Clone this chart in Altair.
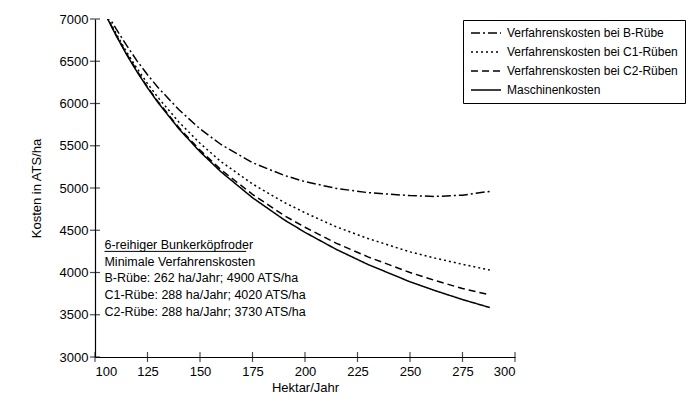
import altair as alt
import pandas as pd

hectares = [105, 110, 115, 120, 125, 130, 140, 150, 160, 175, 190, 200, 215, 230, 250, 262, 275, 288]
cost_b = [7090, 6885, 6690, 6505, 6340, 6190, 5925, 5700, 5515, 5300, 5150, 5075, 4995, 4945, 4910, 4900, 4915, 4960]
cost_c1 = [7065, 6831, 6611, 6415, 6236, 6071, 5779, 5529, 5312, 5048, 4831, 4707, 4539, 4402, 4244, 4170, 4097, 4029]
cost_c2 = [7060, 6812, 6590, 6385, 6195, 6022, 5712, 5448, 5215, 4925, 4675, 4535, 4345, 4185, 4000, 3905, 3810, 3735]
cost_m = [7051, 6806, 6581, 6375, 6186, 6011, 5699, 5429, 5192, 4885, 4625, 4475, 4272, 4095, 3890, 3785, 3680, 3585]

series_names = [
    "Verfahrenskosten bei B-Rübe",
    "Verfahrenskosten bei C1-Rüben",
    "Verfahrenskosten bei C2-Rüben",
    "Maschinenkosten",
]
dashes = [[9, 3, 2, 3], [2, 3], [7, 4], [1, 0]]

note_lines = [
    "6-reihiger Bunkerköpfroder",
    "Minimale Verfahrenskosten",
    "B-Rübe: 262 ha/Jahr; 4900 ATS/ha",
    "C1-Rübe: 288 ha/Jahr; 4020 ATS/ha",
    "C2-Rübe: 288 ha/Jahr; 3730 ATS/ha",
]
note_y = [4330, 4130, 3930, 3730, 3530]
note_x = 104.5

x_ticks = [100, 125, 150, 175, 200, 225, 250, 275, 300]
y_ticks = [3000, 3500, 4000, 4500, 5000, 5500, 6000, 6500, 7000]
x_min = 100
y_min = 3000

rows = []
for name, vals in zip(series_names, [cost_b, cost_c1, cost_c2, cost_m]):
    for h, v in zip(hectares, vals):
        rows.append({"ha": h, "cost": v, "series": name})
df = pd.DataFrame(rows)

font = "Liberation Sans"

xscale = alt.Scale(domain=[100, 300], nice=False)
yscale = alt.Scale(domain=[3000, 7000], nice=False)

lines = alt.Chart(df).mark_line(color="black", strokeWidth=1.5, clip=True).encode(
    x=alt.X("ha:Q", scale=xscale, title="Hektar/Jahr",
            axis=alt.Axis(values=x_ticks, grid=False, format="d", ticks=False, labelPadding=8)),
    y=alt.Y("cost:Q", scale=yscale, title="Kosten in ATS/ha",
            axis=alt.Axis(values=y_ticks, grid=False, format="d", ticks=False, labelPadding=7)),
    strokeDash=alt.StrokeDash(
        "series:N",
        scale=alt.Scale(domain=series_names, range=dashes),
        sort=series_names,
        legend=alt.Legend(
            title=None, orient="none", legendX=368, legendY=1,
            symbolType="M-1,0L5,0", symbolSize=100, symbolStrokeWidth=1.5,
            symbolStrokeColor="black", labelOffset=25,
            labelFontSize=12, labelFont=font,
            labelColor="black", rowPadding=7, padding=7,
            strokeColor="black", fillColor="white", labelLimit=300,
        ),
    ),
)

ytick_df = pd.DataFrame({"v": y_ticks, "x": [x_min] * len(y_ticks)})
yticks = alt.Chart(ytick_df).mark_tick(
    orient="horizontal", color="black", size=10, thickness=1.2, clip=False
).encode(x=alt.X("x:Q", scale=xscale), y=alt.Y("v:Q", scale=yscale))

xtick_df = pd.DataFrame({"v": x_ticks, "y": [y_min] * len(x_ticks)})
xticks = alt.Chart(xtick_df).mark_tick(
    orient="vertical", color="black", size=10, thickness=1.2, clip=False
).encode(x=alt.X("v:Q", scale=xscale), y=alt.Y("y:Q", scale=yscale))

notes_df = pd.DataFrame({"text": note_lines, "y": note_y, "x": [note_x] * len(note_lines)})
notes = alt.Chart(notes_df).mark_text(
    align="left", baseline="middle", fontSize=12.5, font=font, color="black"
).encode(x=alt.X("x:Q", scale=xscale), y=alt.Y("y:Q", scale=yscale), text="text:N")

ul_df = pd.DataFrame({"x": [note_x], "x2": [172], "y": [note_y[0] - 80]})
underline = alt.Chart(ul_df).mark_rule(color="black", strokeWidth=1).encode(
    x=alt.X("x:Q", scale=xscale), x2="x2:Q", y=alt.Y("y:Q", scale=yscale)
)

chart = alt.layer(lines, yticks, xticks, notes, underline).properties(
    width=420, height=338,
    autosize=alt.AutoSizeParams(type="none"),
    padding={"left": 95, "top": 19, "right": 173, "bottom": 53},
).configure_view(stroke=None).configure_axis(
    domainColor="black", domainWidth=1.2,
    labelFont=font, labelFontSize=13, labelColor="black",
    titleFont=font, titleFontSize=13, titleFontWeight="normal", titleColor="black",
).configure_axisY(titlePadding=16).configure_axisX(titlePadding=3)

chart.save("out.html", embed_options={"renderer": "svg", "actions": False})
